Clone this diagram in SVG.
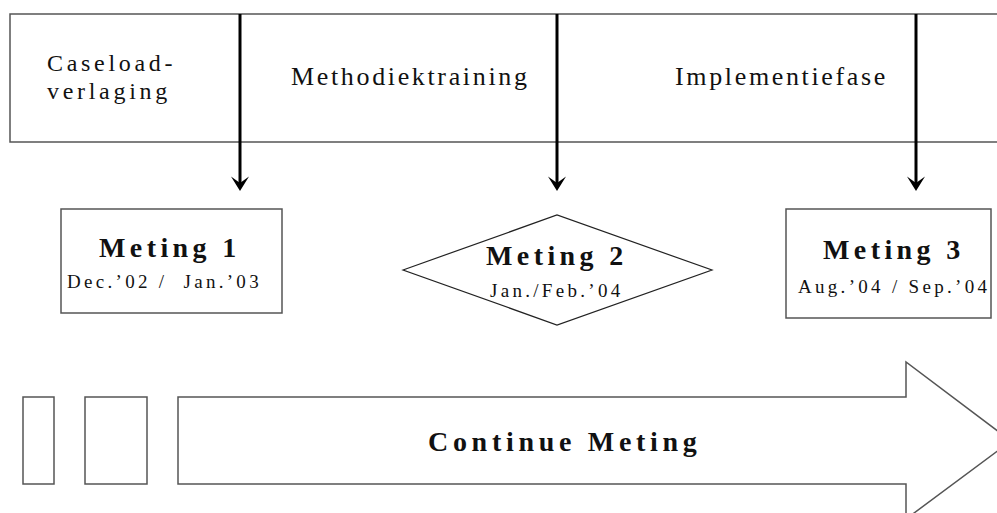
<svg xmlns="http://www.w3.org/2000/svg" width="997" height="513" viewBox="0 0 997 513">
<style>
  .box { fill: #fff; stroke: #555; stroke-width: 1.5; }
  .thin { fill: #fff; stroke: #222; stroke-width: 1.2; }
  .reg { font-family: "Liberation Serif", "Times New Roman", serif; font-size: 26px; letter-spacing: 2.65px; fill: #111; }
  .two { font-size: 24px; letter-spacing: 3.7px; }
  .bold { font-family: "Liberation Serif", "Times New Roman", serif; font-size: 28px; font-weight: bold; letter-spacing: 4.4px; fill: #111; }
  .small { font-family: "Liberation Serif", "Times New Roman", serif; font-size: 19px; letter-spacing: 3.3px; fill: #111; }
  .conn { stroke: #000; stroke-width: 3; fill: none; }
  .head { fill: #000; stroke: none; }
</style>
<rect width="997" height="513" fill="#fff"/>

<g id="phases">
  <rect class="box" x="10" y="14" width="1000" height="128"/>
  <text class="reg two" x="47" y="71">Caseload-</text>
  <text class="reg two" x="47" y="98.5">verlaging</text>
  <text class="reg" x="291" y="85">Methodiektraining</text>
  <text class="reg" x="675" y="85">Implementiefase</text>
</g>

<g id="meting1">
  <rect class="box" x="61" y="209" width="221" height="104"/>
  <text class="bold" x="99" y="257">Meting 1</text>
  <text class="small" x="67" y="288">Dec.’02 / <tspan dx="8">Jan.’03</tspan></text>
</g>

<g id="meting2">
  <polygon class="thin" points="403,270 557,215 712,270 557,325"/>
  <text class="bold" x="486" y="265">Meting 2</text>
  <text class="small" x="490" y="297">Jan./Feb.’04</text>
</g>

<g id="meting3">
  <rect class="box" x="786" y="209" width="205" height="109"/>
  <text class="bold" x="823" y="259">Meting 3</text>
  <text class="small" x="798" y="293">Aug.’04 / Sep.’04</text>
</g>

<g id="continue">
  <rect class="box" x="23" y="397" width="31" height="87"/>
  <rect class="box" x="85" y="397" width="62" height="87"/>
  <polygon class="box" points="178,397 906,397 906,362 1011,441 906,519 906,484 178,484"/>
  <text class="bold" x="428" y="451" style="letter-spacing:4.7px">Continue Meting</text>
</g>

<g id="connectors">
  <line class="conn" x1="240" y1="14" x2="240" y2="183"/>
  <polygon class="head" points="240,191 231,176.5 240,183 249,176.5"/>
  <line class="conn" x1="557" y1="14" x2="557" y2="183"/>
  <polygon class="head" points="557,191 548,176.5 557,183 566,176.5"/>
  <line class="conn" x1="916" y1="14" x2="916" y2="183"/>
  <polygon class="head" points="916,191 907,176.5 916,183 925,176.5"/>
</g>
</svg>
